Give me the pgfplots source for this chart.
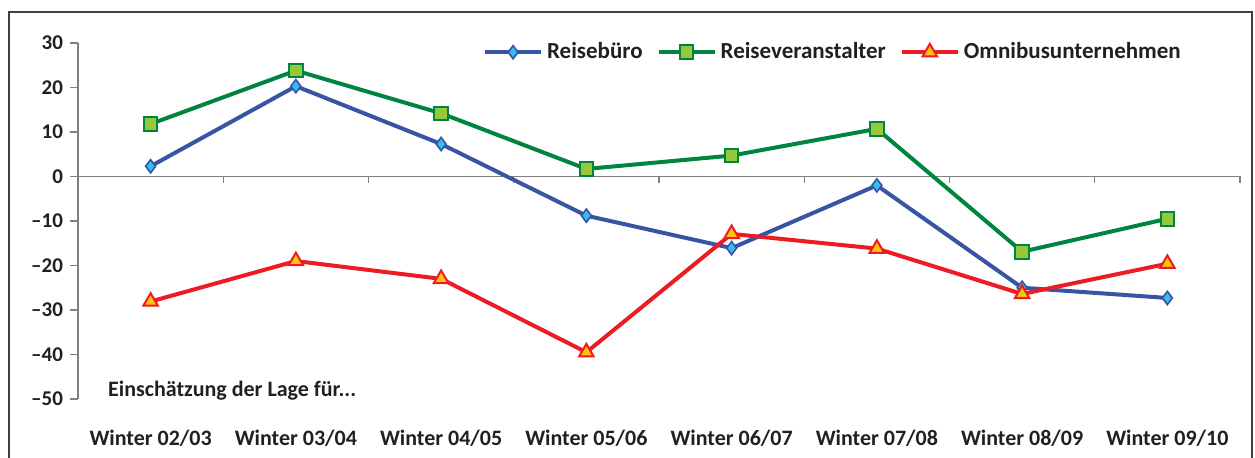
\documentclass[border=0pt]{standalone}
\usepackage{pgfplots}
\pgfplotsset{compat=1.18}
\usepackage{fontspec}
\setmainfont{Carlito}
\definecolor{rbline}{RGB}{56,84,164}
\definecolor{rbfill}{RGB}{50,190,240}
\definecolor{rvline}{RGB}{0,133,62}
\definecolor{rvfill}{RGB}{150,200,60}
\definecolor{omline}{RGB}{237,28,36}
\definecolor{omfill}{RGB}{255,194,14}
\definecolor{axgray}{RGB}{128,128,128}
\definecolor{txt}{RGB}{35,31,32}
\begin{document}
\begin{tikzpicture}
\useasboundingbox (0,0) rectangle (627.5pt,229pt);
\draw[line width=0.8pt, black!75] (4.5pt,-10pt) rectangle (626pt,223pt);
% zero line with downward ticks
\begin{axis}[at={(39pt,140.75pt)}, anchor=south west, scale only axis,
  width=581pt, height=66.75pt, xmin=0, xmax=8, ymin=0, ymax=30,
  axis x line=bottom, axis y line=none,
  x axis line style={-, axgray, line width=0.6pt},
  xtick={0,...,8}, xticklabels={}, ytick=\empty,
  tick align=outside, major tick length=3.5pt,
  xtick style={axgray, line width=0.6pt}]
\end{axis}
\begin{axis}[at={(39pt,29.5pt)}, anchor=south west, scale only axis,
  width=581pt, height=178pt, xmin=0, xmax=8, ymin=-50, ymax=30,
  axis lines=left, clip=false,
  x axis line style={draw=none},
  y axis line style={-, axgray, line width=0.6pt},
  xtick={0.5,1.5,...,7.5},
  xticklabels={Winter 02/03,Winter 03/04,Winter 04/05,Winter 05/06,Winter 06/07,Winter 07/08,Winter 08/09,Winter 09/10},
  xtick style={draw=none},
  xticklabel style={yshift=-8pt, font=\bfseries\fontsize{11}{13}\selectfont, text=txt},
  ytick={-50,-40,...,30},
  yticklabels={{--50},{--40},{--30},{--20},{--10},0,10,20,30},
  yticklabel style={font=\bfseries\fontsize{10.5}{12}\selectfont, text=txt},
  ytick style={axgray, line width=0.6pt},
  tick align=outside, major tick length=4pt,
  legend columns=3,
  legend cell align=left,
  legend style={draw=none, fill=none, at={(0.958,0.974)}, anchor=east,
    font=\bfseries\fontsize{11.5}{13}\selectfont, text=txt,
    /tikz/every even column/.append style={column sep=5pt}},
  legend image code/.code={\draw[mark repeat=2, mark phase=2] plot coordinates {(0pt,0pt)(14pt,0pt)(28pt,0pt)};}
]
\addplot[rbline, line width=2pt, mark=diamond*, mark size=3.3pt,
  mark options={fill=rbfill, draw=rbline, line width=0.8pt}]
  coordinates {(0.5,2.3)(1.5,20.3)(2.5,7.3)(3.5,-8.8)(4.5,-16.1)(5.5,-2.0)(6.5,-25.0)(7.5,-27.3)};
\addlegendentry{Reisebüro}
\addplot[rvline, line width=2pt, mark=square*, mark size=3.4pt,
  mark options={fill=rvfill, draw=rvline, line width=1pt}]
  coordinates {(0.5,11.8)(1.5,23.8)(2.5,14.2)(3.5,1.7)(4.5,4.7)(5.5,10.7)(6.5,-16.9)(7.5,-9.5)};
\addlegendentry{Reiseveranstalter}
\addplot[omline, line width=2pt, mark=triangle*, mark size=4.2pt,
  mark options={fill=omfill, draw=omline, line width=1pt}]
  coordinates {(0.5,-28.1)(1.5,-19.0)(2.5,-23.0)(3.5,-39.5)(4.5,-12.9)(5.5,-16.2)(6.5,-26.4)(7.5,-19.6)};
\addlegendentry{Omnibusunternehmen}
\node[anchor=west, font=\bfseries\fontsize{11}{13}\selectfont, text=txt, inner sep=0pt] at (axis cs:0.205,-48.1) {Einschätzung der Lage für...};
\end{axis}
\end{tikzpicture}
\end{document}
